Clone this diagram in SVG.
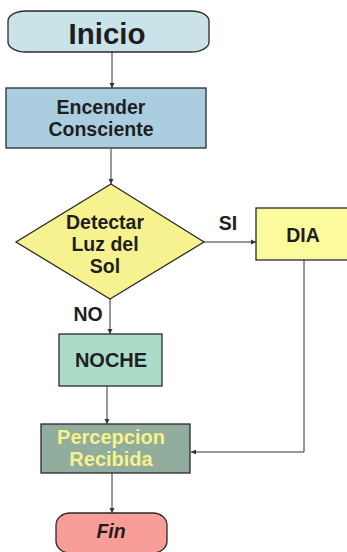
<svg xmlns="http://www.w3.org/2000/svg" width="347" height="552" viewBox="0 0 347 552">
<style>
.n{stroke:#2a2a2a;stroke-width:1.3}
.t{font-family:"Liberation Sans",Arial,sans-serif;font-weight:bold;text-anchor:middle;fill:#1f1f1f;font-size:19.5px}
.c{fill:none;stroke:#333;stroke-width:1}
.y{fill:#f7f28a}
</style>
<defs>
<marker id="a" markerWidth="6" markerHeight="6" refX="5" refY="3" orient="auto" markerUnits="userSpaceOnUse">
<path d="M0,0.5 L5,3 L0,5.5 z" fill="#333"/>
</marker>
</defs>
<rect width="347" height="552" fill="#fff"/>
<g id="connectors">
<path class="c" d="M112,52 V88" marker-end="url(#a)"/>
<path class="c" d="M111,149 V184" marker-end="url(#a)"/>
<path class="c" d="M204,242 H256" marker-end="url(#a)"/>
<path class="c" d="M110,299 V334" marker-end="url(#a)"/>
<path class="c" d="M107,386 V424" marker-end="url(#a)"/>
<path class="c" d="M304,260 V452 H191" marker-end="url(#a)"/>
<path class="c" d="M112,473 V513" marker-end="url(#a)"/>
</g>
<g id="inicio">
<rect class="n" x="8" y="11" width="201" height="41" rx="18" ry="10" fill="#c9e3e9"/>
<text class="t" x="107" y="44" style="font-size:29.5px">Inicio</text>
</g>
<g id="encender">
<rect class="n" x="6" y="88" width="200" height="60" fill="#aacee0"/>
<text class="t" x="101" y="114">Encender</text>
<text class="t" x="101" y="136">Consciente</text>
</g>
<g id="detectar">
<polygon class="n" points="111,184 204,242 110,299 16,242" fill="#f7f290"/>
<text class="t" x="105" y="229">Detectar</text>
<text class="t" x="105" y="251">Luz del</text>
<text class="t" x="105" y="273">Sol</text>
</g>
<g id="dia">
<rect class="n" x="256" y="208" width="95" height="52" fill="#fbfa9c"/>
<text class="t" x="303" y="242">DIA</text>
</g>
<g id="noche">
<rect class="n" x="59" y="334" width="103" height="52" fill="#abdcc8"/>
<text class="t" x="111" y="367" style="font-size:20px">NOCHE</text>
</g>
<g id="percepcion">
<rect class="n" x="41" y="424" width="149" height="49" fill="#90ad9d"/>
<text class="t y" x="111" y="444" style="font-size:20px">Percepcion</text>
<text class="t y" x="111" y="466" style="font-size:20px">Recibida</text>
</g>
<g id="fin">
<rect class="n" x="56" y="513" width="111" height="40" rx="14" ry="12" fill="#f99d98"/>
<text class="t" x="111" y="538" font-style="italic">Fin</text>
</g>
<g id="labels">
<text class="t" x="228" y="230">SI</text>
<text class="t" x="88" y="321">NO</text>
</g>
</svg>
